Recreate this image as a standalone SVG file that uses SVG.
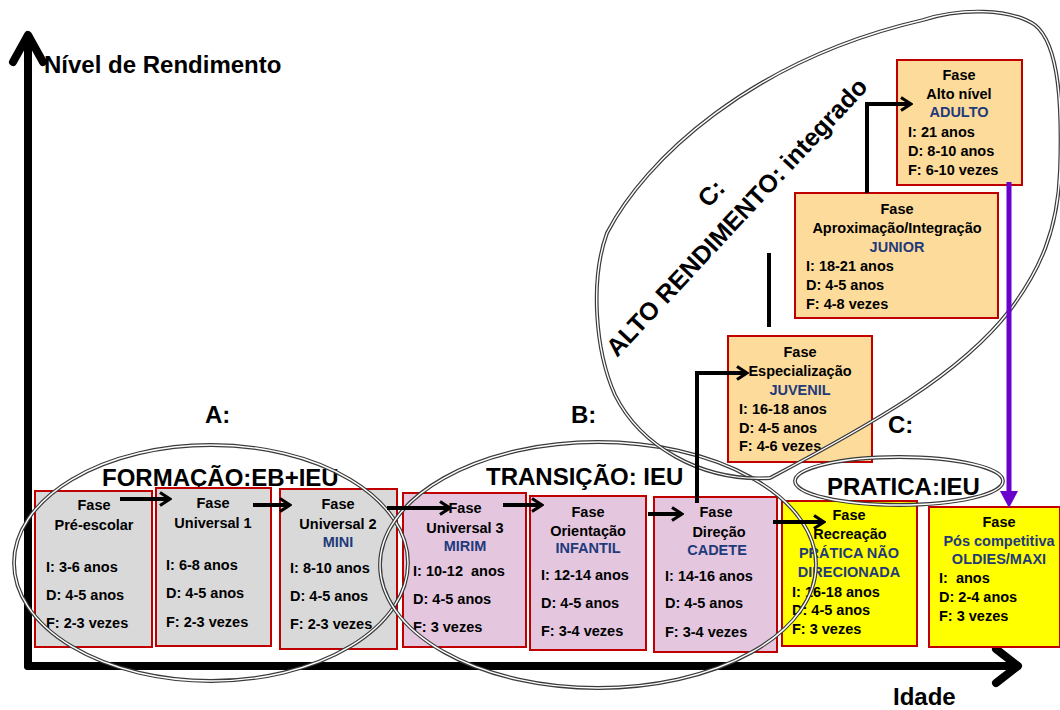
<svg xmlns="http://www.w3.org/2000/svg" width="1060" height="710" viewBox="0 0 1060 710">
  <style>
    text { font-family: "Liberation Sans", Arial, sans-serif; font-weight: bold; fill: #000; }
    .t { font-size: 14.5px; }
    .c { text-anchor: middle; }
    .n { fill: #1f3a7a; }
    .h { font-size: 24px; }
    .r { font-size: 25px; }
    .pre { white-space: pre; }
    .box { stroke: #c00000; stroke-width: 2; }
    .gray { fill: #d9d9d9; }
    .pink { fill: #e4c6df; }
    .yel { fill: #ffff00; }
    .org { fill: #fddb9a; }
    .ring { fill: none; stroke: #3a3a3a; stroke-width: 3.8; }
    .ringin { fill: none; stroke: #ffffff; stroke-width: 1.4; }
    .conn { fill: none; stroke: #000; stroke-width: 4; }
    .axis { fill: none; stroke: #000; stroke-width: 8; stroke-linecap: round; stroke-linejoin: round; }
  </style>
  <defs>
    <marker id="chev" markerUnits="userSpaceOnUse" viewBox="0 0 14 16" refX="12" refY="8" markerWidth="14" markerHeight="16" orient="auto">
      <path d="M2,1.5 L12,8 L2,14.5" fill="none" stroke="#000" stroke-width="3.2" stroke-linejoin="miter"/>
    </marker>
    <ellipse id="ellA" cx="211" cy="563" rx="197" ry="118"/>
    <ellipse id="ellB" cx="598" cy="565" rx="218" ry="123"/>
    <ellipse id="ellP" cx="899" cy="481" rx="104" ry="24"/>
    <path id="blobC" d="M770,478 C700,482 640,445 615,395 C595,350 590,280 607,233 C645,160 750,60 923,20 C960,8 1010,8 1035,25 C1060,45 1062,110 1060,170 C1058,230 1040,270 1010,310 C960,375 870,425 770,478 Z"/>
  </defs>

  <!-- axes -->
  <g id="axes">
    <line class="axis" x1="28" y1="38" x2="28" y2="666"/>
    <polyline class="axis" points="13,62 28,35 43,62"/>
    <line class="axis" x1="28" y1="666" x2="1016" y2="666"/>
    <polyline class="axis" points="996,649 1018,666 996,683"/>
    <text class="h" x="44" y="73">Nível de Rendimento</text>
    <text class="h" x="893" y="705">Idade</text>
  </g>

  <!-- group headings -->
  <g id="labels">
    <text class="h" x="205" y="423">A:</text>
    <text class="h" x="571" y="423">B:</text>
    <text class="h" x="888" y="433">C:</text>
    <text class="h" x="102" y="486">FORMAÇÃO:EB+IEU</text>
    <text class="h" x="486" y="485">TRANSIÇÃO: IEU</text>
    <text class="h" x="827" y="495">PRATICA:IEU</text>
    <g transform="translate(743,223) rotate(-47)">
      <text class="r c" x="0" y="-35">C:</text>
      <text class="r c" x="0" y="0">ALTO RENDIMENTO: integrado</text>
    </g>
  </g>

  <!-- phase boxes -->
  <g id="pre-escolar">
    <rect class="box gray" x="35" y="491" width="117" height="156"/>
    <text class="t c" x="94" y="510">Fase</text>
    <text class="t c" x="94" y="530">Pré-escolar</text>
    <text class="t" x="46" y="572">I: 3-6 anos</text>
    <text class="t" x="46" y="600">D: 4-5 anos</text>
    <text class="t" x="46" y="628">F: 2-3 vezes</text>
  </g>
  <g id="universal1">
    <rect class="box gray" x="156" y="488" width="115" height="158"/>
    <text class="t c" x="213" y="508">Fase</text>
    <text class="t c" x="213" y="528">Universal 1</text>
    <text class="t" x="166" y="570">I: 6-8 anos</text>
    <text class="t" x="166" y="598">D: 4-5 anos</text>
    <text class="t" x="166" y="627">F: 2-3 vezes</text>
  </g>
  <g id="universal2">
    <rect class="box gray" x="280" y="489" width="117" height="160"/>
    <text class="t c" x="338" y="509">Fase</text>
    <text class="t c" x="338" y="529">Universal 2</text>
    <text class="t c n" x="338" y="547">MINI</text>
    <text class="t" x="290" y="573">I: 8-10 anos</text>
    <text class="t" x="290" y="601">D: 4-5 anos</text>
    <text class="t" x="290" y="629">F: 2-3 vezes</text>
  </g>
  <g id="universal3">
    <rect class="box pink" x="403" y="493" width="123" height="154"/>
    <text class="t c" x="465" y="513">Fase</text>
    <text class="t c" x="465" y="533">Universal 3</text>
    <text class="t c n" x="465" y="551">MIRIM</text>
    <text class="t pre" x="413" y="576">I: 10-12  anos</text>
    <text class="t" x="413" y="604">D: 4-5 anos</text>
    <text class="t" x="413" y="632">F: 3 vezes</text>
  </g>
  <g id="orientacao">
    <rect class="box pink" x="530" y="496" width="116" height="154"/>
    <text class="t c" x="588" y="517">Fase</text>
    <text class="t c" x="588" y="536">Orientação</text>
    <text class="t c n" x="588" y="553">INFANTIL</text>
    <text class="t" x="541" y="580">I: 12-14 anos</text>
    <text class="t" x="541" y="608">D: 4-5 anos</text>
    <text class="t" x="541" y="636">F: 3-4 vezes</text>
  </g>
  <g id="direcao">
    <rect class="box pink" x="654" y="497" width="123" height="155"/>
    <text class="t c" x="716" y="517">Fase</text>
    <text class="t c" x="719" y="537">Direção</text>
    <text class="t c n" x="717" y="555">CADETE</text>
    <text class="t" x="665" y="581">I: 14-16 anos</text>
    <text class="t" x="665" y="608">D: 4-5 anos</text>
    <text class="t" x="665" y="637">F: 3-4 vezes</text>
  </g>
  <g id="recreacao">
    <rect class="box yel" x="782" y="501" width="135" height="145"/>
    <text class="t c" x="849" y="520">Fase</text>
    <text class="t c" x="850" y="539">Recreação</text>
    <text class="t c n" x="849" y="558">PRÁTICA NÃO</text>
    <text class="t c n" x="849" y="577">DIRECIONADA</text>
    <text class="t" x="792" y="597">I: 16-18 anos</text>
    <text class="t" x="792" y="615">D: 4-5 anos</text>
    <text class="t" x="792" y="634">F: 3 vezes</text>
  </g>
  <g id="pos-competitiva">
    <rect class="box yel" x="929" y="507" width="131" height="140"/>
    <text class="t c" x="999" y="527">Fase</text>
    <text class="t c n" x="999" y="546">Pós competitiva</text>
    <text class="t c n" x="999" y="564">OLDIES/MAXI</text>
    <text class="t pre" x="939" y="583">I:  anos</text>
    <text class="t" x="939" y="602">D: 2-4 anos</text>
    <text class="t" x="939" y="621">F: 3 vezes</text>
  </g>
  <g id="especializacao">
    <rect class="box org" x="728" y="336" width="144" height="126"/>
    <text class="t c" x="800" y="357">Fase</text>
    <text class="t c" x="800" y="376">Especialização</text>
    <text class="t c n" x="800" y="395">JUVENIL</text>
    <text class="t" x="739" y="414">I: 16-18 anos</text>
    <text class="t" x="739" y="433">D: 4-5 anos</text>
    <text class="t" x="739" y="451">F: 4-6 vezes</text>
  </g>
  <g id="aproximacao">
    <rect class="box org" x="795" y="193" width="203" height="125"/>
    <text class="t c" x="897" y="214">Fase</text>
    <text class="t c" x="897" y="233">Aproximação/Integração</text>
    <text class="t c n" x="897" y="252">JUNIOR</text>
    <text class="t" x="806" y="271">I: 18-21 anos</text>
    <text class="t" x="806" y="290">D: 4-5 anos</text>
    <text class="t" x="806" y="309">F: 4-8 vezes</text>
  </g>
  <g id="alto-nivel">
    <rect class="box org" x="897" y="60" width="125" height="125"/>
    <text class="t c" x="959" y="80">Fase</text>
    <text class="t c" x="959" y="99">Alto nível</text>
    <text class="t c n" x="959" y="117">ADULTO</text>
    <text class="t" x="908" y="137">I: 21 anos</text>
    <text class="t" x="908" y="156">D: 8-10 anos</text>
    <text class="t" x="908" y="175">F: 6-10 vezes</text>
  </g>

  <!-- grouping outlines (double line) -->
  <g id="outlines">
    <use href="#ellA" class="ring"/><use href="#ellA" class="ringin"/>
    <use href="#ellB" class="ring"/><use href="#ellB" class="ringin"/>
    <use href="#ellP" class="ring"/><use href="#ellP" class="ringin"/>
    <use href="#blobC" class="ring"/><use href="#blobC" class="ringin"/>
  </g>

  <!-- connectors -->
  <g id="connectors">
    <line class="conn" x1="120" y1="499" x2="170" y2="499" marker-end="url(#chev)"/>
    <line class="conn" x1="253" y1="505" x2="290" y2="505" marker-end="url(#chev)"/>
    <line class="conn" x1="387" y1="508" x2="450" y2="508" marker-end="url(#chev)"/>
    <line class="conn" x1="503" y1="505" x2="542" y2="505" marker-end="url(#chev)"/>
    <line class="conn" x1="648" y1="514" x2="682" y2="514" marker-end="url(#chev)"/>
    <line class="conn" x1="773" y1="522" x2="824" y2="522" marker-end="url(#chev)"/>
    <polyline class="conn" points="697,503 697,373 747,373" marker-end="url(#chev)"/>
    <line class="conn" x1="769" y1="253" x2="769" y2="327"/>
    <polyline class="conn" points="867,193 867,104 911,104" marker-end="url(#chev)"/>
    <line x1="1009" y1="182" x2="1009" y2="494" stroke="#6a00cc" stroke-width="5"/>
    <polygon points="1000,491 1018,491 1009,508" fill="#6a00cc"/>
  </g>
</svg>
